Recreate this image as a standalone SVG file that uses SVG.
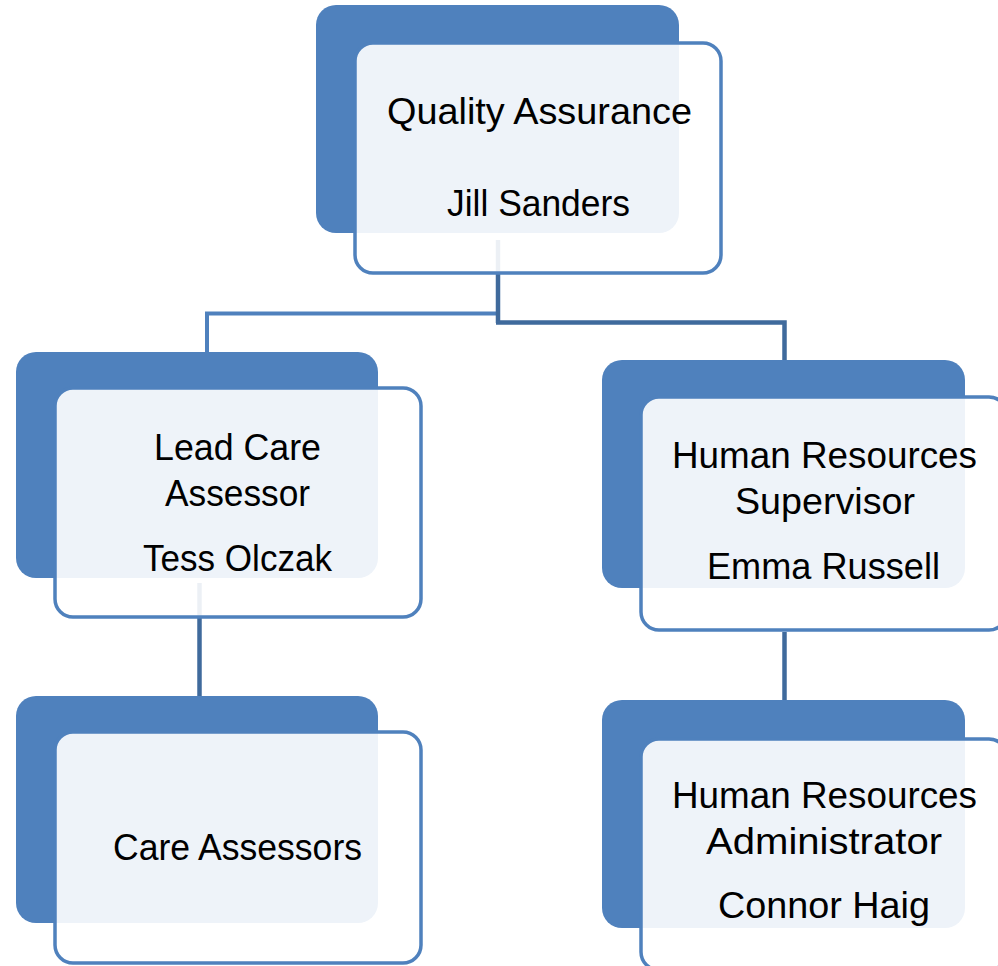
<svg xmlns="http://www.w3.org/2000/svg" width="998" height="966" viewBox="0 0 998 966">
<style>
.back{fill:#4F81BD}
.front{fill:#FFFFFF;fill-opacity:0.9;stroke:#4F81BD;stroke-width:3.5}
.c1{stroke:#4F81BD;stroke-width:4;fill:none}
.c2{stroke:#3F6A9C;stroke-width:4.5;fill:none}
text{font-family:"Liberation Sans",Arial,sans-serif;font-size:37px;fill:#000;text-anchor:middle}
</style>
<rect width="998" height="966" fill="#FFFFFF"/>
<g id="connectors">
<polyline class="c1" points="207,375 207,313.5 498,313.5"/>
<line class="c2" x1="498" y1="240" x2="498" y2="323"/>
<polyline class="c2" points="496,322.5 784.5,322.5 784.5,362"/>
<line class="c2" x1="199.5" y1="583" x2="199.5" y2="698"/>
<line class="c2" x1="784.5" y1="632" x2="784.5" y2="702"/>
</g>
<g id="node-qa">
<rect class="back" x="316" y="5" width="363" height="228" rx="20"/>
<rect class="front" x="355" y="43" width="366" height="230" rx="18"/>
<text x="539.5" y="124" textLength="305" lengthAdjust="spacingAndGlyphs">Quality Assurance</text>
<text x="538.5" y="216" textLength="183" lengthAdjust="spacingAndGlyphs">Jill Sanders</text>
</g>
<g id="node-lead">
<rect class="back" x="16" y="352" width="362" height="226" rx="20"/>
<rect class="front" x="55" y="388" width="366" height="229" rx="18"/>
<text x="237.5" y="460" textLength="167" lengthAdjust="spacingAndGlyphs">Lead Care</text>
<text x="237.5" y="506" textLength="145" lengthAdjust="spacingAndGlyphs">Assessor</text>
<text x="237.5" y="571" textLength="189" lengthAdjust="spacingAndGlyphs">Tess Olczak</text>
</g>
<g id="node-hrs">
<rect class="back" x="602" y="360" width="363" height="228" rx="20"/>
<rect class="front" x="641" y="397" width="366" height="233" rx="18"/>
<text x="824.5" y="468" textLength="305" lengthAdjust="spacingAndGlyphs">Human Resources</text>
<text x="825" y="514" textLength="180" lengthAdjust="spacingAndGlyphs">Supervisor</text>
<text x="823.5" y="579" textLength="233" lengthAdjust="spacingAndGlyphs">Emma Russell</text>
</g>
<g id="node-care">
<rect class="back" x="16" y="696" width="362" height="227" rx="20"/>
<rect class="front" x="55" y="732" width="366" height="231" rx="18"/>
<text x="237.5" y="860" textLength="249" lengthAdjust="spacingAndGlyphs">Care Assessors</text>
</g>
<g id="node-hra">
<rect class="back" x="602" y="700" width="363" height="228" rx="20"/>
<rect class="front" x="641" y="739" width="366" height="231" rx="18"/>
<text x="824.5" y="808" textLength="305" lengthAdjust="spacingAndGlyphs">Human Resources</text>
<text x="824" y="854" textLength="236" lengthAdjust="spacingAndGlyphs">Administrator</text>
<text x="824" y="918" textLength="212" lengthAdjust="spacingAndGlyphs">Connor Haig</text>
</g>
</svg>
